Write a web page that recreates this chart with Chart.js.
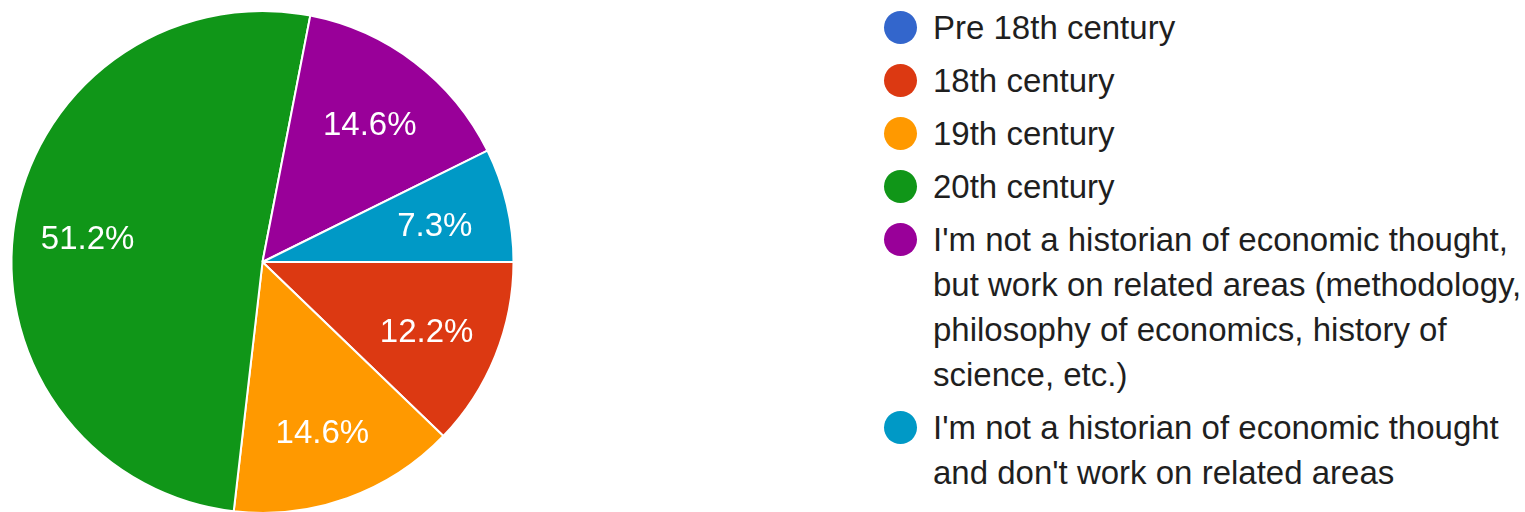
<!DOCTYPE html>
<html>
<head>
<meta charset="utf-8">
<script src="https://cdn.jsdelivr.net/npm/chart.js@4/dist/chart.umd.min.js"></script>
<style>
  html, body { margin: 0; padding: 0; background: #fff; overflow: hidden; width: 1525px; height: 512px; }
  #wrap { position: absolute; left: 0; top: 0; width: 525px; height: 524px; }
  #legend { position: absolute; left: 884px; top: 4.5px; width: 669px; font-family: "Liberation Sans", Arial, Helvetica, sans-serif; font-size: 33px; color: #1f1f1f; }
  .item { position: relative; padding-left: 49px; line-height: 45px; margin-bottom: 8px; width: 620px; }
  .dot { position: absolute; left: 0; top: 6px; width: 33px; height: 33px; border-radius: 50%; }
</style>
</head>
<body>
<div id="wrap"><canvas id="c" width="525" height="524"></canvas></div>
<div id="legend"></div>
<script>
const categories = [
  "Pre 18th century",
  "18th century",
  "19th century",
  "20th century",
  "I'm not a historian of economic thought, but work on related areas (methodology, philosophy of economics, history of science, etc.)",
  "I'm not a historian of economic thought and don't work on related areas"
];
const responses = [0, 5, 6, 21, 6, 3];
const colors = ["#3366cc", "#dc3912", "#ff9900", "#109618", "#990099", "#0099c6"];

const total = responses.reduce((a, b) => a + b, 0);

const sliceLabels = {
  id: 'sliceLabels',
  afterDatasetsDraw(chart) {
    const ctx = chart.ctx;
    const meta = chart.getDatasetMeta(0);
    ctx.save();
    ctx.fillStyle = '#ffffff';
    ctx.font = '33px "Liberation Sans", Arial, Helvetica, sans-serif';
    ctx.textAlign = 'center';
    ctx.textBaseline = 'middle';
    meta.data.forEach((arc, i) => {
      const v = responses[i];
      if (!v) return;
      const p = arc.getProps(['x', 'y', 'startAngle', 'endAngle', 'outerRadius'], true);
      const mid = (p.startAngle + p.endAngle) / 2;
      const r = p.outerRadius * 0.705;
      const txt = (v / total * 100).toFixed(1) + '%';
      ctx.fillText(txt, p.x + Math.cos(mid) * r, p.y + Math.sin(mid) * r + 5);
    });
    ctx.restore();
  }
};

new Chart(document.getElementById('c'), {
  type: 'pie',
  data: {
    labels: categories,
    datasets: [{
      data: responses,
      backgroundColor: colors,
      borderColor: '#ffffff',
      borderWidth: 2,
      radius: 251,
      hoverOffset: 0
    }]
  },
  options: {
    responsive: false,
    animation: false,
    rotation: 90,
    layout: { padding: 0 },
    plugins: {
      legend: { display: false },
      tooltip: { enabled: false }
    },
    events: []
  },
  plugins: [sliceLabels]
});

const legend = document.getElementById('legend');
categories.forEach((label, i) => {
  const item = document.createElement('div');
  item.className = 'item';
  const dot = document.createElement('span');
  dot.className = 'dot';
  dot.style.background = colors[i];
  item.appendChild(dot);
  item.appendChild(document.createTextNode(label));
  legend.appendChild(item);
});
</script>
</body>
</html>
